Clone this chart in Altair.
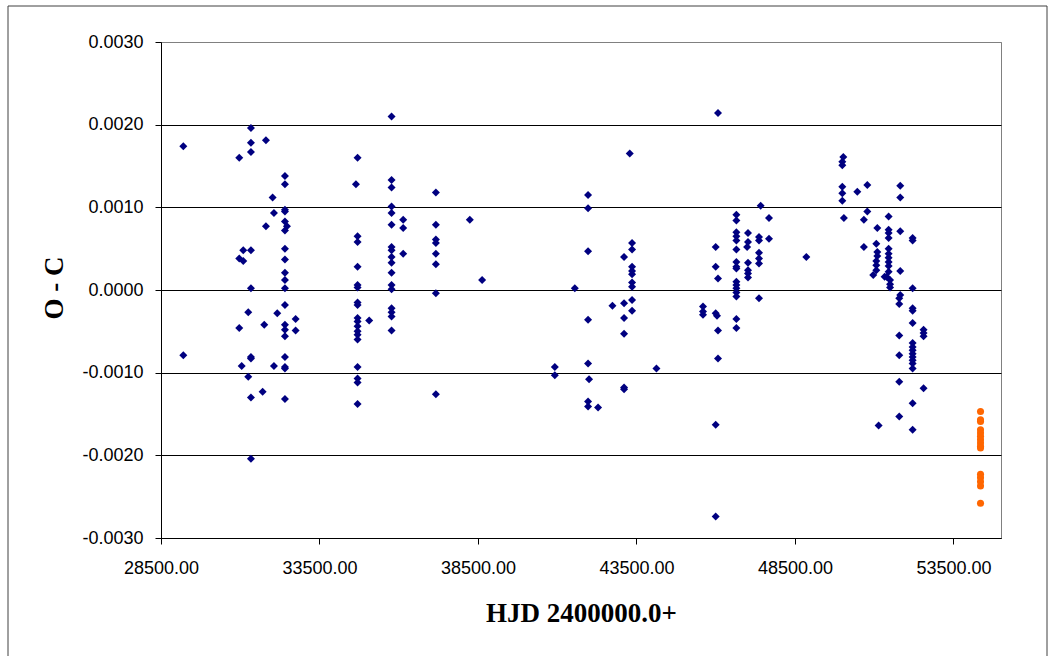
import altair as alt
import pandas as pd

# ---- data ----
blue_hjd = [
    29203, 29203,
    31338, 31338, 31338, 31811, 30969,
    32410, 32410, 32022, 32410, 32410, 32063, 31811,
    32410, 32473, 32410,
    31095, 31338, 30969, 31095,
    32410, 32410, 32410, 32410, 32410, 31338,
    32410, 31253, 32167, 32747, 30969, 31757,
    32410, 32410, 32410, 32747,
    31338, 31338, 31045, 32063, 32410, 32410, 32410,
    31253, 31707, 31338, 32410, 31338,
    35774, 34702, 34649, 35774, 35774, 37171,
    35774, 35774, 36140, 36140, 35774, 38243, 37171,
    34702, 34702, 37171, 37171,
    35774, 35774, 35774, 35774, 36140, 37171, 37171,
    34702, 35774, 38631, 34702, 34702, 35774, 35774,
    37171, 34702, 34702, 35774, 35774, 35774,
    34702, 34702, 34702, 34702, 34702, 34702, 35068, 35774,
    34702, 34702, 34702, 37171, 34702,
    43288, 41973, 41973, 41973, 43360, 43360, 43108,
    43360, 43360, 43360, 41554, 43360, 43360,
    43360, 43360, 43108, 42742, 43108, 41973, 43108,
    40923, 40923, 41973, 44129, 42004, 43108, 43108,
    41973, 41973, 42288,
    46072, 47418, 47680, 46652, 46652,
    46652, 46652, 46652, 47018, 47018, 46990,
    47365, 47365, 47680, 45999, 46652,
    47365, 47365, 47365, 48859,
    46652, 46652, 46652, 47018, 47018, 47018, 47018,
    45999, 46072,
    46652, 46652, 46652, 46652, 46652, 47365,
    45599, 45599, 45599, 45999, 46040,
    46652, 46652, 46072, 46072, 45999, 45999,
    50025, 49993, 49993, 49993, 49993, 49993,
    50467, 50782, 51822, 51822,
    50044, 50782, 50675, 51454, 51098,
    51454, 51454, 51454, 51822, 52211, 52211,
    50675, 51066,
    51098, 51098, 51066, 51066, 51066, 50970,
    51454, 51454, 51454, 51454, 51454,
    51454, 51390, 51500, 51500, 51500, 51328,
    51822, 52211,
    51822, 51790, 51790, 52211, 52211, 52211,
    52558, 52558, 52558, 51790,
    52211, 52211, 52211, 52211, 52211, 52211, 52211, 52211,
    51790, 51790, 52558, 52211, 51790, 51139, 52211,
]
blue_oc = [
    0.00174, -0.00079,
    0.00196, 0.00178, 0.00167, 0.00181, 0.00160,
    0.00138, 0.00128, 0.00112, 0.00097, 0.00095, 0.00093, 0.00077,
    0.00083, 0.00077, 0.00072,
    0.00048, 0.00048, 0.00038, 0.00035,
    0.00050, 0.00037, 0.00021, 0.00012, 0.00002, 0.00002,
    -0.00018, -0.00027, -0.00028, -0.00035, -0.00046, -0.00042,
    -0.00042, -0.00048, -0.00056, -0.00049,
    -0.00081, -0.00083, -0.00092, -0.00092, -0.00081, -0.00093, -0.00095,
    -0.00105, -0.00123, -0.00130, -0.00132, -0.00204,
    0.00210, 0.00160, 0.00128, 0.00133, 0.00124, 0.00118,
    0.00101, 0.00093, 0.00085, 0.00075, 0.00079, 0.00085, 0.00079,
    0.00065, 0.00058, 0.00061, 0.00057,
    0.00052, 0.00048, 0.00040, 0.00033, 0.00044, 0.00044, 0.00031,
    0.00028, 0.00021, 0.00012, 0.00006, 0.00003, 0.00006, 0.00001,
    -0.00004, -0.00015, -0.00018, -0.00022, -0.00027, -0.00032,
    -0.00034, -0.00038, -0.00044, -0.00050, -0.00054, -0.00060, -0.00037, -0.00049,
    -0.00093, -0.00107, -0.00112, -0.00126, -0.00138,
    0.00165, 0.00115, 0.00099, 0.00047, 0.00057, 0.00049, 0.00040,
    0.00028, 0.00023, 0.00019, 0.00002, 0.00009, 0.00004,
    -0.00012, -0.00025, -0.00016, -0.00019, -0.00034, -0.00036, -0.00053,
    -0.00093, -0.00103, -0.00089, -0.00095, -0.00108, -0.00118, -0.00120,
    -0.00135, -0.00141, -0.00142,
    0.00214, 0.00102, 0.00087, 0.00091, 0.00084,
    0.00070, 0.00065, 0.00060, 0.00069, 0.00058, 0.00052,
    0.00064, 0.00060, 0.00062, 0.00052, 0.00049,
    0.00045, 0.00038, 0.00032, 0.00040,
    0.00034, 0.00028, 0.00026, 0.00033, 0.00024, 0.00020, 0.00015,
    0.00028, 0.00014,
    0.00010, 0.00006, 0.00002, -0.00003, -0.00008, -0.00010,
    -0.00020, -0.00026, -0.00030, -0.00028, -0.00031,
    -0.00035, -0.00046, -0.00049, -0.00083, -0.00163, -0.00274,
    0.00161, 0.00155, 0.00151, 0.00125, 0.00117, 0.00108,
    0.00119, 0.00127, 0.00126, 0.00112,
    0.00087, 0.00095, 0.00085, 0.00089, 0.00075,
    0.00073, 0.00069, 0.00063, 0.00071, 0.00063, 0.00060,
    0.00052, 0.00056,
    0.00046, 0.00041, 0.00035, 0.00030, 0.00024, 0.00018,
    0.00050, 0.00044, 0.00039, 0.00034, 0.00029,
    0.00022, 0.00016, 0.00012, 0.00007, 0.00003, 0.00016,
    0.00023, 0.00002,
    -0.00006, -0.00010, -0.00017, -0.00022, -0.00025, -0.00040,
    -0.00048, -0.00052, -0.00056, -0.00055,
    -0.00064, -0.00069, -0.00073, -0.00077, -0.00081, -0.00085, -0.00089, -0.00095,
    -0.00079, -0.00111, -0.00119, -0.00137, -0.00153, -0.00164, -0.00169,
]
orange_hjd = [54354] * 15
orange_oc = [-0.00147, -0.00157, -0.00159, -0.00169, -0.00173, -0.00177, -0.00181,
             -0.00185, -0.00189, -0.00191, -0.00223, -0.00227, -0.00232, -0.00237,
             -0.00258]

x_ticks = [28500, 33500, 38500, 43500, 48500, 53500]
y_ticks = [-0.003, -0.002, -0.001, 0.0, 0.001, 0.002, 0.003]
x_domain = [28500, 55000]
y_domain = [-0.003, 0.003]

df_blue = pd.DataFrame({"hjd": blue_hjd, "oc": blue_oc})
df_orange = pd.DataFrame({"hjd": orange_hjd, "oc": orange_oc})

W, H = 840, 496
PAD_L, PAD_T = 161, 42

xscale = alt.Scale(domain=x_domain, nice=False, zero=False)
yscale = alt.Scale(domain=y_domain, nice=False, zero=False)

x_axis = alt.Axis(
    values=x_ticks, format=".2f", title="HJD 2400000.0+", grid=False,
    domainColor="black", tickColor="black", tickSize=6,
    labelFont="Liberation Sans", labelFontSize=18, labelColor="black", labelPadding=15,
    titleFont="Liberation Serif", titleFontSize=27, titleFontWeight="bold", titleColor="black",
    titleX=W / 2, titleY=83, titleBaseline="alphabetic", titleAnchor="middle", titleAlign="center",
    labelFlush=False, labelOverlap=False,
)
y_axis = alt.Axis(
    values=y_ticks, title="O - C",
    labelExpr="replace(format(datum.value, '.4f'), '\u2212', '-')",
    grid=True,
    gridColor=alt.condition("datum.value > 0.0029", alt.value("#808080"), alt.value("black")),
    gridWidth=1.2,
    domainColor="black", tickColor="black", tickSize=6,
    labelFont="Liberation Sans", labelFontSize=18, labelColor="black", labelPadding=12,
    titleFont="Liberation Serif", titleFontSize=27, titleFontWeight="bold", titleColor="black",
    titleX=62 - PAD_L, titleY=287.5 - PAD_T, titleAngle=-90, titleBaseline="alphabetic",
    titleAlign="center",
    labelFlush=False, labelOverlap=False,
)

blue = alt.Chart(df_blue).mark_point(
    shape="diamond", filled=True, size=64, color="#000080", opacity=1
).encode(
    x=alt.X("hjd:Q", scale=xscale, axis=x_axis),
    y=alt.Y("oc:Q", scale=yscale, axis=y_axis),
)

orange = alt.Chart(df_orange).mark_point(
    shape="circle", filled=True, size=50, color="#FF6600", opacity=1
).encode(
    x=alt.X("hjd:Q", scale=xscale),
    y=alt.Y("oc:Q", scale=yscale),
)

frame = alt.Chart(pd.DataFrame({"a": [0]})).mark_rect(
    fill=None, stroke="#404040", strokeWidth=1
).encode(
    x=alt.value(8 - PAD_L), x2=alt.value(1047 - PAD_L),
    y=alt.value(6 - PAD_T), y2=alt.value(700),
)

chart = alt.layer(blue, orange, frame).properties(
    width=W, height=H,
    autosize=alt.AutoSizeParams(type="none"),
    padding={"left": PAD_L, "top": PAD_T, "right": 1051 - PAD_L - W, "bottom": 656 - PAD_T - H},
    background="white",
).configure_view(stroke="#808080", strokeWidth=1)

chart.save("out.html", embed_options={"renderer": "svg", "actions": False})
